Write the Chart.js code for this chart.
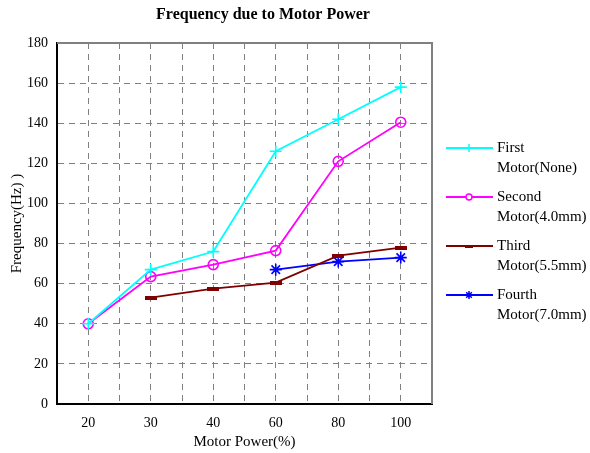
<!DOCTYPE html>
<html>
<head>
<meta charset="utf-8">
<script src="https://cdn.jsdelivr.net/npm/chart.js@4.4.1/dist/chart.umd.min.js"></script>
<style>
  html, body { margin: 0; padding: 0; background: #fff; }
  #wrap { width: 590px; height: 453px; position: relative; }
</style>
</head>
<body>
<div id="wrap"><canvas id="chart1" width="590" height="453"></canvas></div>
<script>
// data
const powerLabels = ["20", "30", "40", "60", "80", "100"];
const firstMotor = [40, 67, 76, 126, 142, 158];
const secondMotor = [40, 63.5, 69.5, 76.5, 121, 140.5];
const thirdMotor = [null, 53, 57.5, 60.5, 74, 78];
const fourthMotor = [null, null, null, 67, 71, 73];
const seriesNames = [
  ["First", "Motor(None)"],
  ["Second", "Motor(4.0mm)"],
  ["Third", "Motor(5.5mm)"],
  ["Fourth", "Motor(7.0mm)"]
];
const yMin = 0, yMax = 180, yStep = 20;

const serif = '"Liberation Serif", "Times New Roman", serif';

// flat dash marker for the third series
function dashMarker(w, h, color) {
  const c = document.createElement("canvas");
  c.width = w; c.height = h;
  const g = c.getContext("2d");
  g.fillStyle = color;
  g.fillRect(0, 0, w, h);
  return c;
}

const styles = [
  { color: "#00ffff", point: "cross", radius: 6, legendRadius: 4 },
  { color: "#ff00ff", point: "circle", radius: 5, legendRadius: 3 },
  { color: "#800000", point: dashMarker(12, 4, "#800000"), radius: 6, legendPoint: dashMarker(8, 3, "#800000"), legendRadius: 4 },
  { color: "#0000ff", point: "star", radius: 6, legendRadius: 4 }
];
const seriesData = [firstMotor, secondMotor, thirdMotor, fourthMotor];

const datasets = seriesData.map((d, i) => ({
  label: seriesNames[i].join(" "),
  data: d,
  borderColor: styles[i].color,
  backgroundColor: i === 1 ? "rgba(255,255,255,0)" : styles[i].color,
  borderWidth: 1.8,
  pointStyle: styles[i].point,
  pointRadius: styles[i].radius,
  pointBorderWidth: 1.6,
  pointBorderColor: styles[i].color,
  pointBackgroundColor: i === 1 ? "rgba(255,255,255,0)" : styles[i].color,
  tension: 0
}));

// title, frame and two-line legend
const extras = {
  id: "extras",
  beforeDatasetsDraw(chart) {
    const { ctx, chartArea: a } = chart;
    ctx.save();
    ctx.strokeStyle = "#808080";
    ctx.lineWidth = 2;
    ctx.beginPath();
    ctx.moveTo(a.left, a.top);
    ctx.lineTo(a.right, a.top);
    ctx.lineTo(a.right, a.bottom);
    ctx.stroke();
    ctx.restore();
  },
  afterDraw(chart) {
    const { ctx } = chart;
    ctx.save();
    ctx.fillStyle = "#000";
    ctx.font = "bold 16px " + serif;
    ctx.textAlign = "center";
    ctx.textBaseline = "middle";
    ctx.fillText("Frequency due to Motor Power", 263, 15);

    ctx.font = "15px " + serif;
    ctx.textAlign = "left";
    chart.data.datasets.forEach((ds, i) => {
      const y = 148 + i * 49;
      ctx.strokeStyle = styles[i].color;
      ctx.lineWidth = 2;
      ctx.beginPath();
      ctx.moveTo(446, y);
      ctx.lineTo(493, y);
      ctx.stroke();
      ctx.fillStyle = styles[i].color;
      ctx.lineWidth = 1.5;
      if (i === 1) {
        ctx.beginPath();
        ctx.arc(469, y, 3, 0, Math.PI * 2);
        ctx.fillStyle = "#fff";
        ctx.fill();
        ctx.stroke();
      } else {
        Chart.helpers.drawPoint(ctx, {
          pointStyle: styles[i].legendPoint || styles[i].point,
          radius: styles[i].legendRadius,
          borderWidth: 1.5,
          rotation: 0
        }, 469, y);
      }
      ctx.fillStyle = "#000";
      ctx.fillText(seriesNames[i][0], 497, y);
      ctx.fillText(seriesNames[i][1], 497, y + 20);
    });
    ctx.restore();
  }
};

const ctx1 = document.getElementById("chart1").getContext("2d");
const chart1 = new Chart(ctx1, {
  type: "line",
  data: {
    labels: powerLabels,
    datasets: datasets
  },
  options: {
    responsive: false,
    animation: false,
    layout: { padding: { top: 43, right: 158, left: 0, bottom: 0 } },
    plugins: {
      legend: { display: false },
      title: { display: false },
      tooltip: { enabled: false }
    },
    scales: {
      x: {
        type: "category",
        offset: true,
        grid: { offset: false, color: "#808080", lineWidth: 1, drawTicks: false },
        border: { display: true, color: "#000", width: 2, dash: [6, 5] },
        ticks: { color: "#000", font: { family: serif, size: 14 }, padding: 11, maxRotation: 0 },
        title: { display: true, text: "Motor Power(%)", color: "#000", font: { family: serif, size: 15 }, padding: { top: 0, bottom: 2 } },
        afterFit(scale) { scale.height = 49; }
      },
      x2: {
        type: "category",
        position: "bottom",
        offset: true,
        grid: {
          offset: true,
          drawTicks: false,
          lineWidth: 1,
          color: (c) => (c.index === 0 || c.index === powerLabels.length) ? "rgba(0,0,0,0)" : "#808080"
        },
        border: { display: false, dash: [6, 5] },
        ticks: { display: false },
        afterFit(scale) { scale.height = 0; }
      },
      y: {
        min: yMin,
        max: yMax,
        ticks: { stepSize: yStep, color: "#000", font: { family: serif, size: 14 }, padding: 9 },
        grid: {
          drawTicks: false,
          lineWidth: 1,
          color: (c) => (c.tick && (c.tick.value === yMin || c.tick.value === yMax)) ? "rgba(0,0,0,0)" : "#808080"
        },
        border: { display: true, color: "#000", width: 2, dash: [6, 5] },
        title: { display: true, text: "Frequency(Hz) )", color: "#000", font: { family: serif, size: 15 }, padding: { top: 8, bottom: 0 } },
        afterFit(scale) { scale.width = 57; }
      }
    }
  },
  plugins: [extras]
});
</script>
</body>
</html>
